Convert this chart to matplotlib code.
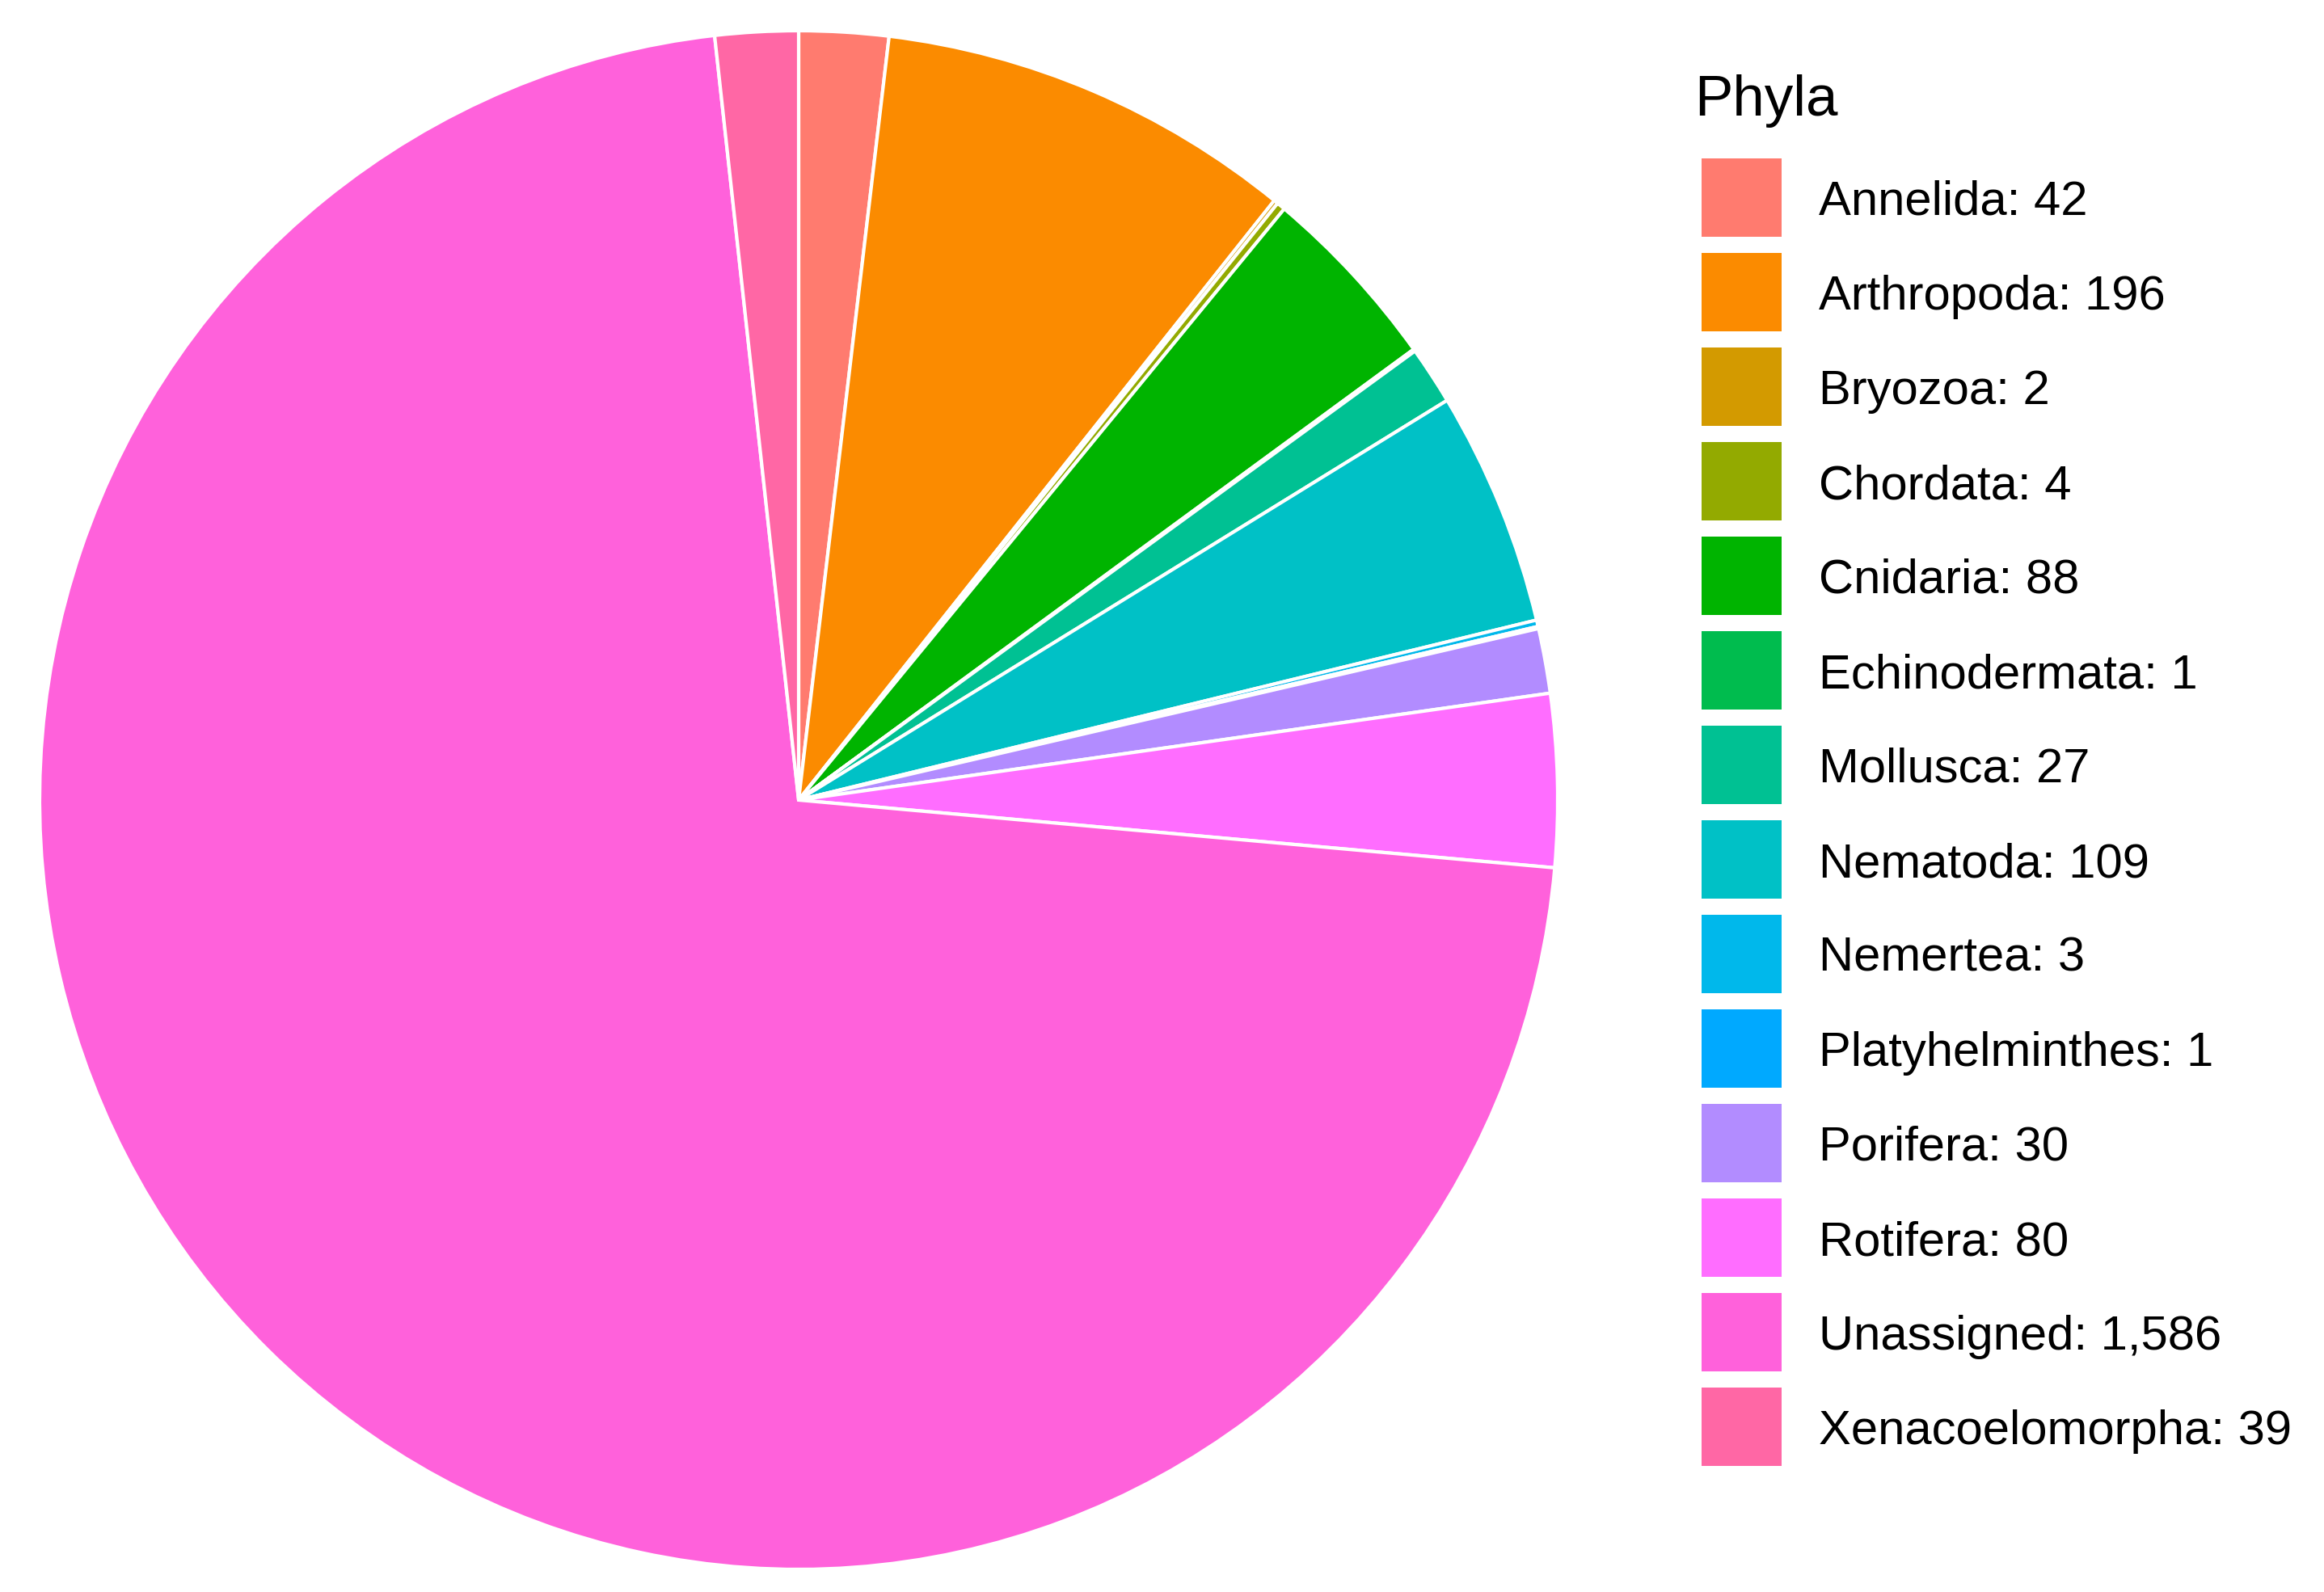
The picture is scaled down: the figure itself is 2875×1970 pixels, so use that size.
import matplotlib
matplotlib.use("Agg")
import matplotlib.pyplot as plt
from matplotlib.patches import Rectangle

plt.rcParams['font.family'] = ['Liberation Sans', 'DejaVu Sans']

phyla = ["Annelida", "Arthropoda", "Bryozoa", "Chordata", "Cnidaria",
         "Echinodermata", "Mollusca", "Nematoda", "Nemertea",
         "Platyhelminthes", "Porifera", "Rotifera", "Unassigned",
         "Xenacoelomorpha"]
counts = [42, 196, 2, 4, 88, 1, 27, 109, 3, 1, 30, 80, 1586, 39]
colors = ["#FF7B6F", "#FB8B00", "#D39A00", "#93AA00", "#00B400", "#00BC4E",
          "#00C193", "#00C1C6", "#00B8EB", "#00A9FF", "#B28CFF", "#FF6DFF",
          "#FF61DB", "#FF67A5"]

W, H = 2875, 1970
fig = plt.figure(figsize=(W / 100, H / 100), dpi=100)

# pie, centre and radii in pixels (slightly taller than wide, like the original)
cx, cy, rx, ry = 988, 990, 939, 952
ax = fig.add_axes([(cx - rx) / W, (H - cy - ry) / H, 2 * rx / W, 2 * ry / H])
ax.pie(counts, colors=colors, startangle=90, counterclock=False, radius=1,
       wedgeprops=dict(edgecolor="white", linewidth=3.0))
ax.set_xlim(-1, 1)
ax.set_ylim(-1, 1)
ax.set_aspect("auto")
ax.axis("off")

# legend drawn in pixel coords
lg = fig.add_axes([0, 0, 1, 1])
lg.set_xlim(0, W)
lg.set_ylim(H, 0)
lg.axis("off")
lg.text(2096, 143, "Phyla", fontsize=51, va="baseline", ha="left")
y0, pitch = 244, 117
for i, (name, n, c) in enumerate(zip(phyla, counts, colors)):
    yc = y0 + i * pitch
    lg.add_patch(Rectangle((2105, yc - 48), 99, 97, facecolor=c, edgecolor="none"))
    lg.text(2250, yc + 22, f"{name}: {n:,}", fontsize=43, va="baseline", ha="left")

fig.savefig("out.png", dpi=100, facecolor="white")
